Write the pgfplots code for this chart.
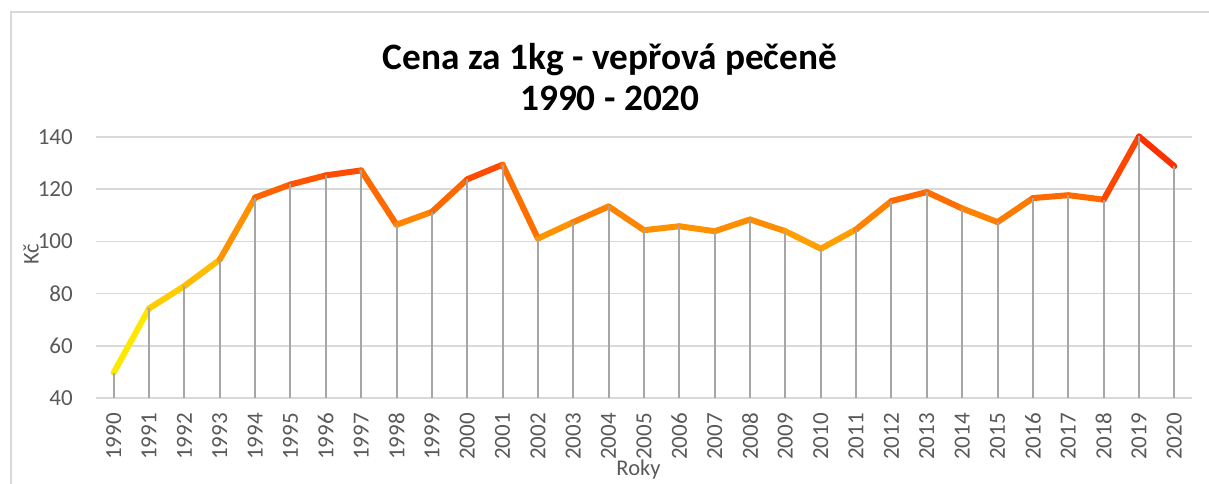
\documentclass[border=0pt]{standalone}
\usepackage{fontspec}
\setmainfont{Carlito}
\usepackage{pgfplots}
\usepackage{pgfplotstable}
\pgfplotsset{compat=1.18}
\definecolor{gridc}{RGB}{217,217,217}
\definecolor{txt}{RGB}{89,89,89}
\definecolor{dropc}{RGB}{166,166,166}
\pgfplotsset{colormap={excelgrad}{rgb255(0pt)=(255,255,0) rgb255(48pt)=(255,175,0) rgb255(101pt)=(255,0,0)}}

\pgfplotstableread{
year price
1990 49.7
1991 74.3
1992 82.9
1993 93.0
1994 116.8
1995 121.8
1996 125.3
1997 127.2
1998 106.4
1999 111.3
2000 123.8
2001 129.4
2002 101.1
2003 107.4
2004 113.4
2005 104.3
2006 105.8
2007 103.9
2008 108.4
2009 103.9
2010 97.2
2011 104.6
2012 115.5
2013 118.9
2014 112.6
2015 107.4
2016 116.6
2017 117.7
2018 116.0
2019 140.2
2020 128.8
}\data

\begin{document}
\begin{tikzpicture}
\path[use as bounding box] (0pt,0pt) rectangle (1209pt,484pt);
\draw[gridc, line width=1.5pt] (11pt,0pt) -- (11pt,472pt) -- (1209pt,472pt);
\begin{axis}[
  at={(96pt,86pt)}, anchor=south west, scale only axis,
  width=1096pt, height=261pt,
  xmin=1989.5, xmax=2020.5, ymin=40, ymax=140,
  xtick={1990,...,2020}, ytick={40,60,...,140},
  ymajorgrids, grid style={gridc, line width=1.5pt},
  axis line style={draw=none},
  major tick length=0pt,
  clip=false,
  tick label style={font=\fontsize{23}{26}\selectfont, text=txt},
  /pgf/number format/assume math mode=true,
  /pgf/number format/1000 sep={},
  xticklabel style={rotate=90, anchor=east, inner sep=0pt},
  yticklabel style={anchor=east, inner sep=0pt},
  xticklabel shift=15pt,
  yticklabel shift=23pt,
  colormap name=excelgrad,
  point meta min=48, point meta max=149,
]
\addplot[mesh, point meta=y, line width=6pt, line cap=round, line join=round] table[x=year, y=price] {\data};
\addplot[draw=none, mark=none,
  error bars/.cd, y dir=minus, y explicit, error mark=none,
  error bar style={dropc, line width=2pt}]
  table[x=year, y=price, y error expr=\thisrow{price}-40] {\data};
\end{axis}
\node[anchor=base, font=\bfseries\fontsize{37.3}{40}\selectfont] at (610pt,414pt) {Cena za 1kg - vepřová pečeně};
\node[anchor=base, font=\bfseries\fontsize{37.3}{40}\selectfont] at (610pt,373pt) {1990 - 2020};
\node[anchor=base, font=\fontsize{22.5}{26}\selectfont, text=txt] at (638.5pt,8pt) {Roky};
\node[rotate=90, font=\fontsize{22.5}{26}\selectfont, text=txt] at (31pt,229.5pt) {Kč};
\end{tikzpicture}
\end{document}
